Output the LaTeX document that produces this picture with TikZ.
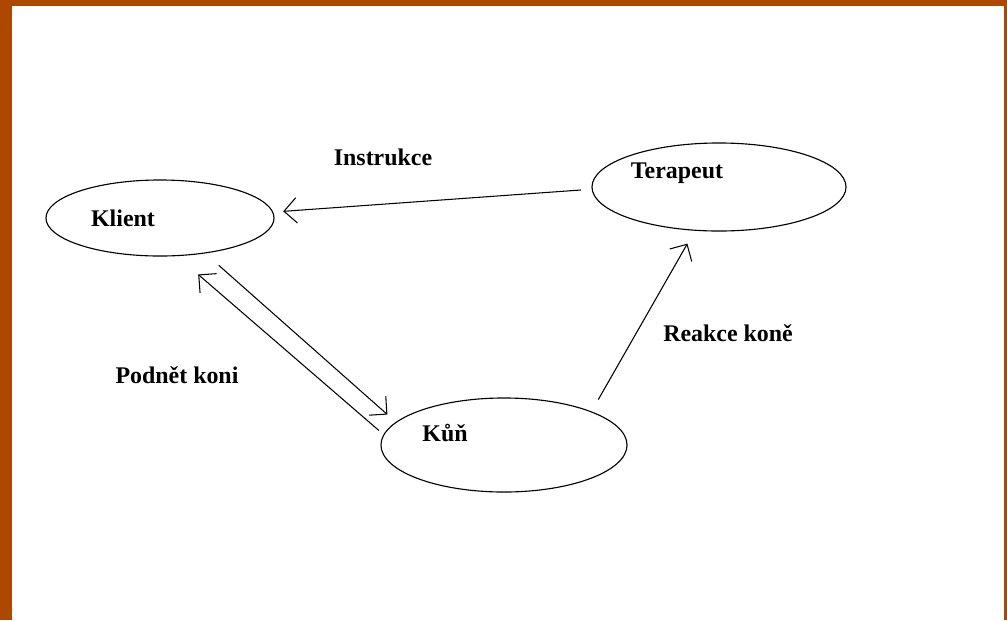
\documentclass[tikz,border=0pt]{standalone}
\usepackage{fontspec}
\setmainfont{Liberation Serif}
\usetikzlibrary{arrows.meta, shapes.geometric}
\definecolor{frame}{RGB}{172,72,0}
\begin{document}
\begin{tikzpicture}[x=0.025cm, y=-0.025cm,
    every node/.style={font=\fontsize{17}{20}\selectfont\bfseries},
    bubble/.style={draw, ellipse, inner sep=0pt, line width=0.8pt},
    link/.style={->, line width=0.75pt, >={Straight Barb[length=9pt, width=18pt]}}]
    \useasboundingbox (0, 0) rectangle (1007, 620);
    \fill[frame] (0, 0) rectangle (1007, 620);
    \fill[white] (12, 6) rectangle (1004, 620);
    \node[bubble, minimum width=5.7cm, minimum height=1.9cm] (klient) at (160, 218) {};
    \node[bubble, minimum width=6.35cm, minimum height=2.2cm] (terapeut) at (719, 187) {};
    \node[bubble, minimum width=6.15cm, minimum height=2.35cm] (kun) at (504, 445) {};
    \node (klientText) at (123, 218) {Klient};
    \node (terapeutText) at (677, 173) {Terapeut};
    \node (kunText) at (445, 433) {Kůň};
    \draw[link, shorten <=0.27cm, shorten >=0.25cm] (terapeut.181) -- (klient.3);
    \draw[link, shorten <=0.34cm, shorten >=0.37cm] (kun.21) -- (terapeut.241);
    \draw[link, shorten <=0.45cm, shorten >=0.28cm] (klient.322) -- (kun.168);
    \draw[link, shorten <=0.15cm, shorten >=0.7cm] (kun.175) -- (klient.294);
    \node (instrukce) at (383, 157) {Instrukce};
    \node (reakce) at (728, 333) {Reakce koně};
    \node (podnet) at (177, 375) {Podnět koni};
\end{tikzpicture}
\end{document}
